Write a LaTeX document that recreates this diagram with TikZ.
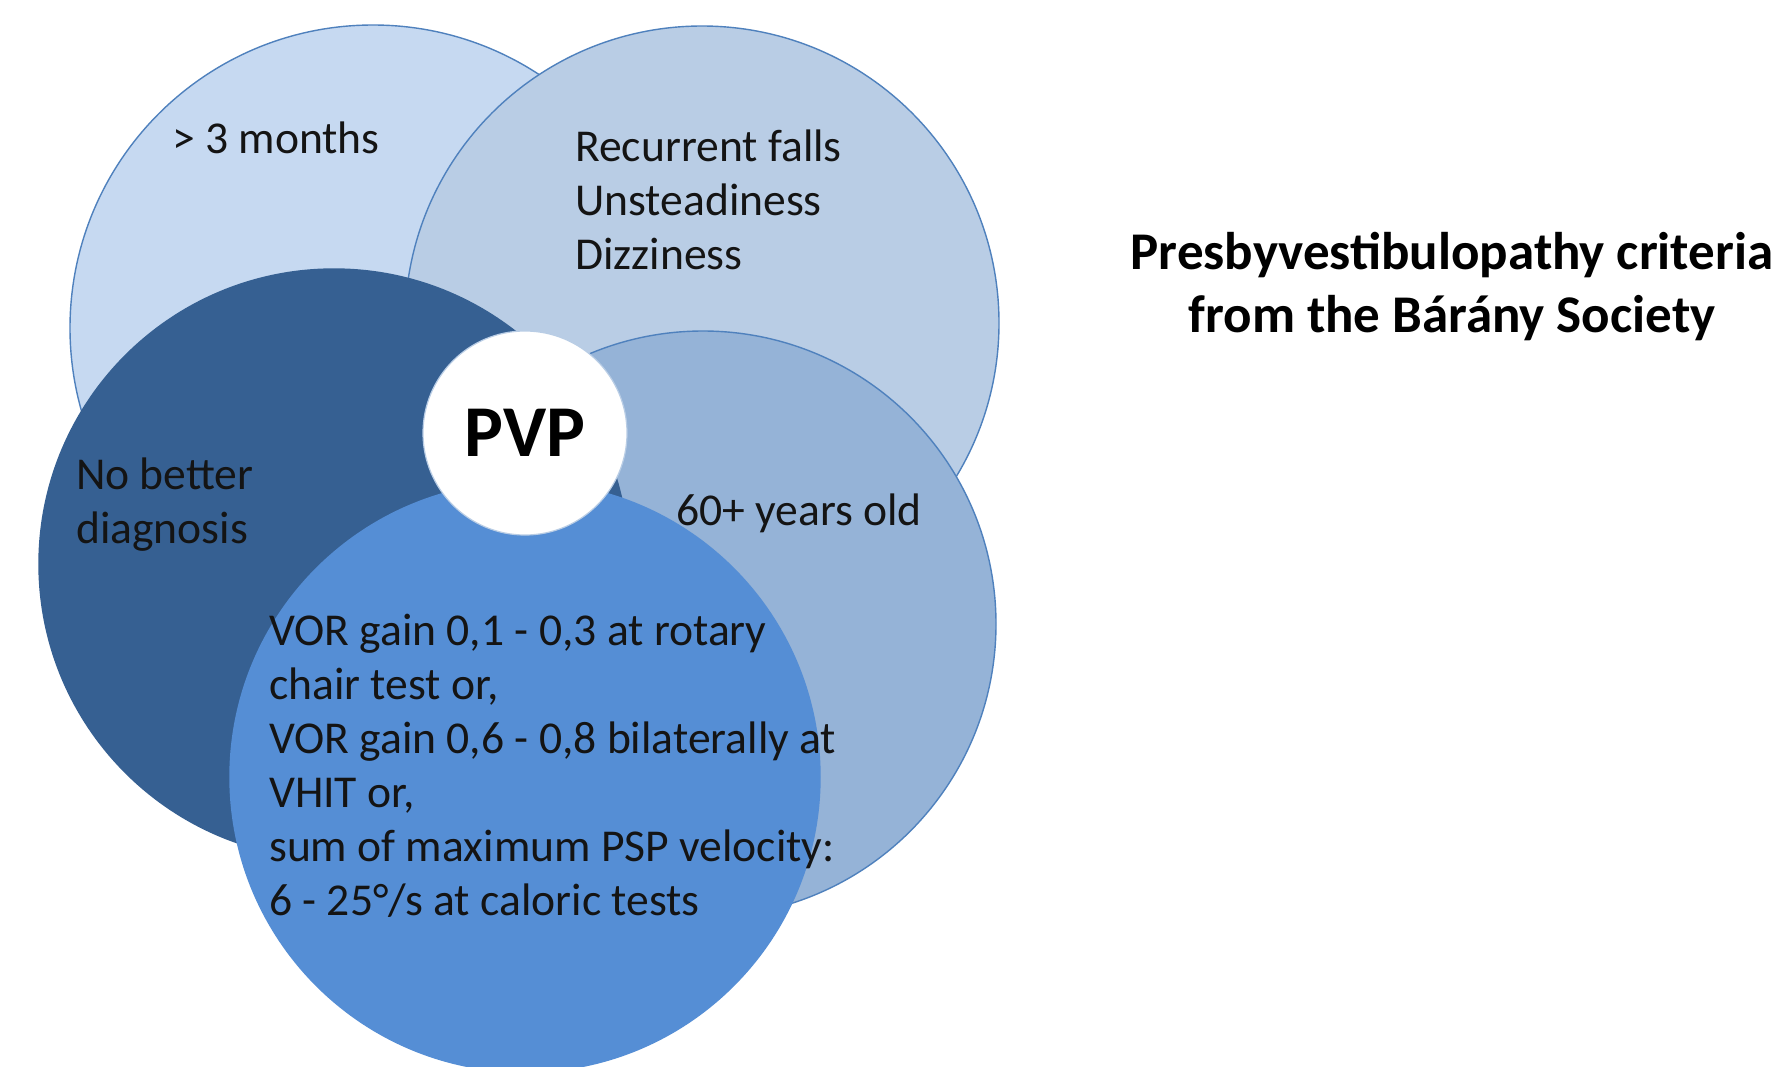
\documentclass[tikz,border=0pt]{standalone}
\usepackage{fontspec}
\setmainfont{Carlito}
\begin{document}
\begin{tikzpicture}[x=1pt,y=-1pt,
  venn/.style={circle, inner sep=0pt, draw=edgeblue, line width=1.4pt},
  lbl/.style={inner sep=0pt, anchor=west, align=left, text=black!92,
    font=\fontsize{45.6}{54}\selectfont},
]
\definecolor{edgeblue}{RGB}{79,129,189}
\definecolor{cA}{RGB}{198,217,241}
\definecolor{cB}{RGB}{185,205,229}
\definecolor{cC}{RGB}{149,179,215}
\definecolor{cD}{RGB}{54,96,146}
\definecolor{cE}{RGB}{85,142,213}
\useasboundingbox (0,0) rectangle (1778,1066);
\clip (0,0) rectangle (1778,1066);
\fill[white] (0,0) rectangle (1778,1066);
% circles
\node[venn, fill=cA, minimum size=606pt] (months) at (373,328) {};
\node[venn, fill=cB, minimum size=594pt] (falls) at (702,323) {};
\node[venn, fill=cC, minimum size=586pt] (age) at (703,624) {};
\node[venn, fill=cD, draw=cD, minimum size=590pt] (nobetter) at (334,564) {};
\node[venn, fill=cE, draw=cE, minimum size=590pt] (vor) at (525,777) {};
\node[circle, inner sep=0pt, fill=white, draw=cB, line width=1.2pt,
  minimum size=204pt, font=\bfseries\fontsize{73}{80}\selectfont] (pvp) at (525,433) {PVP};
% labels
\node[lbl] (tmonths) at (172,138) {\textgreater\ 3 months};
\node[lbl] (tfalls) at (575,200) {Recurrent falls\\Unsteadiness\\Dizziness};
\node[lbl] (tnob) at (76,505) {No better\\diagnosis};
\node[lbl] (tage) at (676,513) {60+ years old};
\node[lbl] (tvor) at (269,766) {VOR gain 0,1 - 0,3 at rotary\\chair test or,\\VOR gain 0,6 - 0,8 bilaterally at\\VHIT or,\\sum of maximum PSP velocity:\\6 - 25°/s at caloric tests};
% title
\node[inner sep=0pt, align=center, font=\bfseries\fontsize{53}{63}\selectfont] (title) at (1452,287)
  {Presbyvestibulopathy criteria\\from the Bárány Society};
\end{tikzpicture}
\end{document}
